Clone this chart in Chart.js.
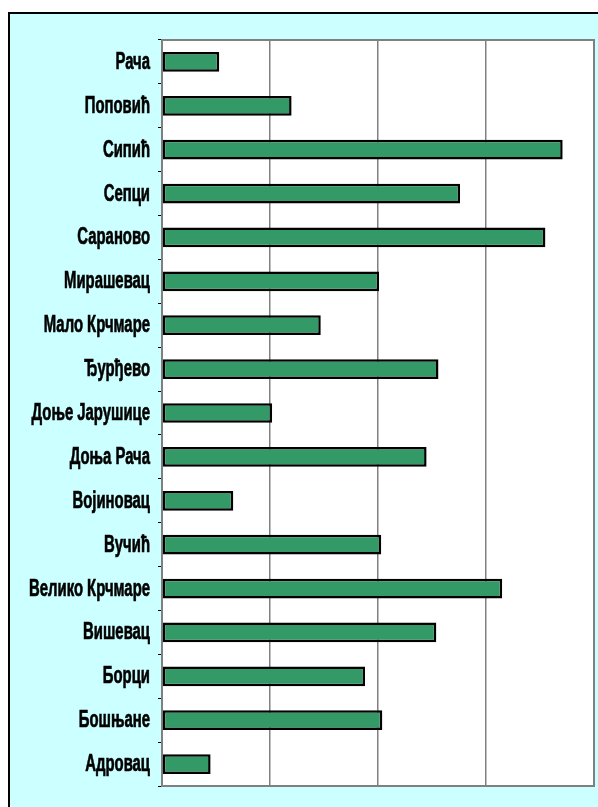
<!DOCTYPE html>
<html>

<head>
    <title>Насеља</title>
    <script src="https://cdn.jsdelivr.net/npm/chart.js"></script>
    <style>
        body { margin: 0; background: #fff; }
        #frame {
            position: absolute; left: 8px; top: 12px; width: 640px; height: 840px;
            background: #CCFFFF; border-left: 2px solid #000; border-top: 2px solid #000;
        }
        #wrap { position: absolute; left: 0; top: 0; width: 598px; height: 807px; }
    </style>
</head>

<body>
    <div id="frame"></div>
    <div id="wrap"><canvas id="myChart" width="598" height="807"></canvas></div>

    <script>
        const places = ['Рача', 'Поповић', 'Сипић', 'Сепци', 'Сараново', 'Мирашевац', 'Мало Крчмаре',
            'Ђурђево', 'Доње Јарушице', 'Доња Рача', 'Војиновац', 'Вучић', 'Велико Крчмаре',
            'Вишевац', 'Борци', 'Бошњане', 'Адровац'];
        const values = [53, 120, 371, 276, 355, 201, 147, 256, 102, 245, 66, 203, 315, 254, 188, 204, 45];

        // white plot area with grey frame
        const plotBox = {
            id: 'plotBox',
            beforeDraw(chart) {
                const { ctx, chartArea: a } = chart;
                ctx.save();
                ctx.fillStyle = '#fff';
                ctx.fillRect(a.left, a.top, a.right - a.left, a.bottom - a.top);
                ctx.restore();
            },
            beforeDatasetsDraw(chart) {
                const { ctx, chartArea: a } = chart;
                ctx.save();
                ctx.strokeStyle = '#808080';
                ctx.lineWidth = 2;
                ctx.strokeRect(a.left, a.top, a.right - a.left, a.bottom - a.top);
                ctx.restore();
            }
        };

        // narrow, tall category labels (like Arial Narrow stretched)
        const narrowLabels = {
            id: 'narrowLabels',
            afterDraw(chart) {
                const { ctx } = chart;
                const y = chart.scales.y;
                ctx.save();
                ctx.fillStyle = '#000';
                ctx.strokeStyle = '#000';
                ctx.lineWidth = 0.7;
                ctx.font = 'bold 24px "Liberation Sans", Arial, sans-serif';
                ctx.textAlign = 'right';
                ctx.textBaseline = 'alphabetic';
                chart.data.labels.forEach((lab, i) => {
                    ctx.save();
                    ctx.translate(y.right - 12, y.getPixelForTick(i) + 7);
                    ctx.scale(0.62, 1);
                    ctx.fillText(lab, 0, 0);
                    ctx.strokeText(lab, 0, 0);
                    ctx.restore();
                });
                ctx.restore();
            }
        };

        new Chart('myChart', {
            type: 'bar',
            data: {
                labels: places,
                datasets: [{
                    data: values,
                    backgroundColor: '#339966',
                    borderColor: '#000',
                    borderWidth: 2.5,
                    borderSkipped: false,
                    categoryPercentage: 1,
                    barPercentage: 0.45
                }]
            },
            options: {
                indexAxis: 'y',
                responsive: false,
                animation: false,
                layout: { padding: { left: 0, top: 40, right: 4, bottom: 21 } },
                plugins: { legend: { display: false }, tooltip: { enabled: false } },
                scales: {
                    x: {
                        min: 0, max: 400,
                        ticks: { stepSize: 100, display: false },
                        grid: { color: '#808080', lineWidth: 1.5, drawTicks: false },
                        border: { color: '#808080', width: 2 }
                    },
                    y: {
                        afterFit: (s) => { s.width = 162; },
                        ticks: { display: false },
                        grid: { drawOnChartArea: false, drawTicks: true, tickLength: 4, color: '#000' },
                        border: { color: '#000', width: 1.5 }
                    }
                }
            },
            plugins: [plotBox, narrowLabels]
        });
    </script>
</body>

</html>
